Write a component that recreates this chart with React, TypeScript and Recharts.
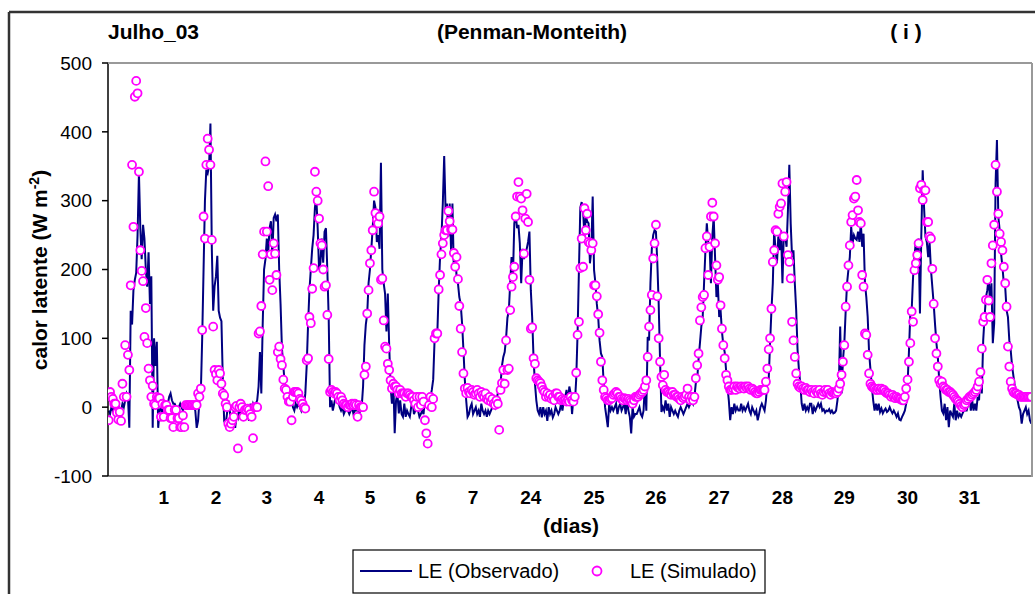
import React from 'react';
import { ComposedChart, Line, XAxis, YAxis } from 'recharts';

// rótulos do eixo x (dias) e a posição (índice da meia-hora) onde aparecem
const dayLabels = ['1', '2', '3', '4', '5', '6', '7', '24', '25', '26', '27', '28', '29', '30', '31'];
const labelIndex = [40, 78, 115, 153, 190, 227, 265, 307, 353, 398, 444, 490, 535, 581, 626];
const yTicks = [-100, 0, 100, 200, 300, 400, 500];

// LE observado, meia-hora (48 valores por linha)
const observado = [
  -5, -10, 0, -5, 5, -10, 0, 5, -15, -5, 5, 0, 10, 20, 15, -30, 140, 120, 170, 185, 195, 250, 340, 260, 215, 265, 245, 200, 175, 225, 150, 190, -30, 100, 60, 95, -30, -5, 0, -10, 5, 0, -5, 5, 15, 20, 10, 5,
  5, 0, -5, 0, 5, 0, -5, 5, 0, 5, 0, 5, 0, 5, 0, -5, -30, -20, 10, 20, 100, 200, 300, 345, 340, 350, 412, 230, 140, 175, 190, 220, 140, 130, 125, 40, -20, -25, -10, 10, -5, -20, -15, -5, -30, -10, -15, 0,
  -10, 0, -15, 5, -10, 0, -20, 5, -5, 5, 0, 5, 10, 30, 80, 20, 120, 200, 215, 245, 225, 260, 270, 220, 275, 280, 270, 280, 200, 150, 85, 60, 35, 25, 15, 10, 5, 10, 0, -5, 5, 0, 5, 0, -5, 5, 0, 20,
  60, 120, 170, 200, 230, 250, 290, 305, 260, 200, 210, 245, 210, 255, 260, 200, 130, 0, 10, -5, 5, 15, 20, 10, 0, -5, 0, -10, -5, 0, -5, -10, -5, 0, -10, -5, -5, 0, -10, -5, 0, 30, 90, 120, 135, 180, 200, 230,
  260, 300, 290, 240, 250, 230, 355, 200, 180, 165, 110, 165, 90, 30, 5, 40, -38, 10, 20, -9, 10, -10, -14, 5, -14, -5, -10, -14, 0, 10, -10, -5, 5, -5, -14, -10, -5, -10, 15, 5, 0, 10, 15, 25, 40, 97, 105, 107,
  170, 218, 248, 296, 365, 286, 296, 248, 296, 228, 296, 200, 228, 190, 180, 160, 150, 122, 83, 40, 10, -14, -10, 0, 5, -10, -5, 0, -10, -5, -14, 5, -5, -10, -5, -14, -5, -10, -5, 0, 5, 0, 10, 20, 25, 34, 60, 73,
  80, 100, 130, 140, 180, 218, 190, 267, 280, 260, 265, 238, 180, 230, 215, 225, 230, 240, 255, 170, 130, 70, 35, 10, -5, -10, 0, -15, 0, -10, -5, -20, 0, -10, -5, -15, -10, 0, -5, -10, -5, 5, -5, 10, 15, 25, 5, 30,
  20, -10, 15, 5, 40, 107, 200, 290, 298, 286, 248, 277, 270, 267, 209, 228, 306, 199, 180, 150, 131, 97, 78, 73, 34, 0, -14, -29, 5, -5, 0, -5, 0, 5, -10, 0, 5, -5, 0, 5, -10, 10, -5, -14, -38, 0, -14, -10,
  -10, -5, 0, -10, -14, -5, 34, -5, 102, 97, 180, 230, 250, 257, 255, 210, 150, 68, -7, 0, -5, 10, -5, 5, -14, 0, -5, -10, -5, -10, -14, -5, 0, -5, -10, -5, 0, 5, 0, 5, 10, 5, 15, 35, 40, 70, 93, 117,
  131, 180, 228, 267, 240, 235, 180, 248, 277, 218, 160, 180, 131, 141, 110, 90, 80, 54, 30, 10, -19, 0, -10, 5, -5, 0, -5, -5, 5, -5, 0, -5, 0, 5, -5, -10, 0, -5, -10, -5, -19, -10, 0, 5, 0, -5, 10, 35,
  40, 93, 141, 180, 257, 228, 209, 248, 228, 257, 180, 252, 248, 233, 286, 352, 267, 218, 228, 180, 141, 83, 54, 34, 5, -5, 5, -5, 0, -5, 5, 5, -10, 0, -5, 0, 5, 0, 5, -5, -3, -8, -5, -6, -3, -8, -5, -9,
  -8, -5, 10, 30, 117, 20, 68, 93, 140, 180, 200, 218, 262, 238, 250, 245, 243, 255, 240, 267, 233, 252, 180, 160, 131, 80, 55, 30, 10, -5, 5, -5, 5, -7, -2, -9, -5, -2, -7, -5, 0, -5, -9, -5, -9, -14, -9, -18,
  -19, -14, -10, -5, 5, 34, 80, 136, 141, 189, 218, 240, 209, 245, 136, 250, 344, 290, 248, 240, 218, 240, 200, 175, 150, 120, 93, 73, 40, 15, -5, -9, 5, -19, 0, -29, -5, -10, -14, 5, -19, -5, -14, -10, -14, -9, -5, -5,
  -5, 5, 15, -5, 10, -5, 5, -5, 15, 10, 54, 20, 97, 131, 160, 170, 189, 150, 180, 93, 122, 325, 388, 277, 257, 223, 204, 180, 175, 141, 131, 97, 83, 60, 45, 30, 20, 10, 0, -5, -24, -10, -5, 0, -10, -5, -19, -24,
];

// LE simulado (Penman-Monteith), mesma grade
const simulado = [
  -19, 22, 15, 12, 5, 5, -8, -18, -7, -20, 34, 15, 90, 15, 76, 54, 177, 352, 262, 451, 474, 456, 342, 228, 198, 183, 102, 144, 93, 56, 39, 15, 31, 5, 3, 15, 13, 13, -14, 5, -14, 3, 3, -4, -4, -16, -16, -29,
  -4, -4, -16, -16, -29, -29, -12, -29, 3, 3, 3, 3, 3, 3, 3, 3, 3, 20, 15, 27, 112, 277, 245, 352, 390, 374, 352, 243, 117, 54, 48, 39, 54, 49, 34, 20, 17, 5, 0, -24, -29, -24, -19, -14, 0, 2, -60, 0,
  5, 0, -14, -4, -4, -2, -4, -10, -14, -45, 0, 0, 0, 107, 110, 147, 222, 255, 357, 255, 321, 185, 222, 170, 238, 223, 192, 80, 88, 70, 61, 40, 27, 25, 15, 8, 8, -19, 15, 22, 22, 22, 20, 12, 10, 5, 0, -2,
  68, 71, 131, 122, 172, 202, 342, 313, 300, 274, 238, 235, 200, 175, 177, 134, 70, 22, 25, 22, 20, 22, 20, 15, 10, 15, 10, 5, 3, 3, 0, 3, 3, 5, 3, 5, 3, -14, 3, 0, 0, 0, 47, 59, 136, 170, 209, 228,
  257, 313, 282, 272, 267, 277, 185, 187, 126, 88, 85, 63, 54, 39, 27, 34, 30, 30, 25, 20, 25, 20, 20, 20, 15, 20, 20, 18, 15, 15, 10, 5, 15, 0, 15, 3, 15, 8, -19, -38, -53, 3, 15, 0, 12, 100, 107, 107,
  171, 192, 222, 238, 250, 257, 257, 285, 270, 258, 258, 224, 204, 218, 186, 147, 114, 80, 49, 27, 20, 28, 22, 20, 25, 22, 18, 20, 25, 20, 15, 22, 18, 15, 20, 12, 10, 15, 8, 12, 5, 3, 10, 5, -33, 25, 35, 54,
  34, 97, 54, 56, 141, 175, 189, 204, 277, 306, 327, 306, 303, 286, 223, 274, 310, 269, 185, 114, 116, 71, 63, 42, 39, 37, 35, 30, 25, 22, 15, 20, 15, 18, 12, 15, 10, 20, 20, 15, 15, 10, 12, 10, 10, 8, 10, 8,
  15, 10, 8, 15, 50, 105, 124, 202, 245, 204, 289, 257, 281, 240, 238, 228, 238, 177, 177, 161, 135, 108, 66, 39, 25, 15, 13, 10, 10, 12, 13, 18, 20, 22, 20, 15, 15, 12, 10, 13, 12, 10, 12, 10, 8, 5, 10, 15,
  15, 15, 18, 20, 22, 25, 30, 39, 73, 117, 141, 163, 216, 238, 265, 161, 100, 66, 44, 32, 47, 25, 22, 22, 20, 18, 22, 18, 18, 15, 15, 12, 10, 15, 13, 15, 18, 27, 15, 10, 15, 10, 15, 42, 61, 78, 126, 145,
  160, 163, 231, 248, 192, 233, 277, 297, 277, 238, 206, 185, 189, 148, 114, 90, 71, 47, 39, 30, 25, 25, 27, 30, 25, 30, 28, 27, 30, 28, 27, 30, 28, 30, 27, 25, 27, 25, 22, 20, 20, 22, 25, 25, 25, 25, 37, 56,
  84, 100, 143, 211, 228, 257, 255, 281, 291, 296, 325, 248, 313, 327, 221, 211, 187, 124, 97, 73, 49, 34, 30, 28, 30, 27, 25, 28, 25, 25, 22, 25, 22, 20, 25, 22, 20, 25, 20, 18, 22, 25, 22, 25, 20, 18, 22, 20,
  20, 20, 22, 27, 34, 47, 66, 90, 146, 175, 206, 235, 269, 279, 303, 306, 330, 286, 269, 267, 192, 175, 107, 105, 76, 49, 34, 30, 28, 27, 25, 25, 27, 25, 27, 25, 25, 22, 20, 20, 18, 15, 18, 15, 13, 15, 13, 12,
  12, 10, 10, 15, 27, 40, 66, 93, 139, 124, 199, 209, 221, 238, 318, 323, 301, 315, 315, 269, 269, 248, 245, 201, 150, 100, 78, 59, 39, 34, 37, 30, 28, 25, 25, 22, 22, 20, 18, 15, 12, 10, 8, 5, 2, 0, 3, 5,
  10, 12, 15, 15, 18, 20, 22, 25, 30, 37, 51, 85, 124, 131, 156, 185, 155, 131, 209, 235, 265, 352, 313, 281, 252, 240, 228, 204, 180, 146, 88, 59, 37, 27, 22, 20, 20, 18, 18, 15, 15, 15, 15, 15, 15, 15, 15, 15,
];

const data = observado.map((obs, i) => ({ i, obs, sim: simulado[i] }));

const FONT = '"Liberation Sans", Arial, sans-serif';

const DayTick = (props: any) => {
  const { x, y, payload } = props;
  const k = labelIndex.indexOf(payload.value);
  return (
    <text x={x} y={y + 28} textAnchor="middle" fontSize={19} fontWeight="bold" fill="#000" fontFamily={FONT}>
      {dayLabels[k]}
    </text>
  );
};

export default function App() {
  return (
    <div style={{ position: 'fixed', left: 0, top: 0, width: 1035, height: 594, overflow: 'hidden', background: '#fff' }}>
      <ComposedChart width={1035} height={594} data={data} margin={{ top: 63, right: 3, bottom: 88, left: 48 }}>
        <XAxis
          type="number"
          dataKey="i"
          domain={[-0.5, 671.5]}
          ticks={labelIndex}
          tick={<DayTick />}
          tickLine={false}
          tickSize={0}
          tickMargin={0}
          height={30}
          axisLine={{ stroke: '#808080', strokeWidth: 2 }}
          allowDataOverflow
        />
        <YAxis
          type="number"
          domain={[-100, 500]}
          ticks={yTicks}
          width={60}
          tickSize={6}
          tickMargin={10}
          axisLine={{ stroke: '#000', strokeWidth: 1.5 }}
          tickLine={{ stroke: '#000', strokeWidth: 1.5 }}
          tick={{ fontSize: 19, fill: '#000', fontFamily: FONT }}
          allowDataOverflow
        />
        <Line
          dataKey="obs"
          type="linear"
          stroke="#000080"
          strokeWidth={2}
          dot={false}
          activeDot={false}
          isAnimationActive={false}
        />
        <Line
          dataKey="sim"
          type="linear"
          stroke="none"
          dot={{ r: 4, stroke: '#FF00FF', strokeWidth: 1.8, fill: '#FFFFFF' }}
          activeDot={false}
          isAnimationActive={false}
        />
      </ComposedChart>
      <svg width={1035} height={594} style={{ position: 'absolute', left: 0, top: 0, pointerEvents: 'none' }} fontFamily={FONT}>
        {/* moldura do gráfico */}
        <line x1={9} y1={12} x2={1035} y2={12} stroke="#333" strokeWidth={2.5} />
        <line x1={9} y1={12} x2={9} y2={594} stroke="#333" strokeWidth={2.5} />
        {/* borda da área de plotagem */}
        <line x1={108} y1={63} x2={1032} y2={63} stroke="#999" strokeWidth={2} />
        <line x1={1032} y1={63} x2={1032} y2={477} stroke="#999" strokeWidth={2} />

        <text x={108} y={39} fontSize={21} fontWeight="bold">Julho_03</text>
        <text x={532} y={39} fontSize={21} fontWeight="bold" textAnchor="middle">(Penman-Monteith)</text>
        <text x={906} y={39} fontSize={21} fontWeight="bold" textAnchor="middle">( i )</text>

        <text x={571} y={533} fontSize={21} fontWeight="bold" textAnchor="middle">(dias)</text>
        <text transform="translate(47,270) rotate(-90)" fontSize={21} fontWeight="bold" textAnchor="middle">
          calor latente (W m<tspan dy={-8} fontSize={14}>-2</tspan><tspan dy={8}>)</tspan>
        </text>

        {/* legenda */}
        <rect x={353} y={550} width={412} height={43} fill="#fff" stroke="#000" strokeWidth={1.2} />
        <line x1={360} y1={571} x2={412} y2={571} stroke="#000080" strokeWidth={2} />
        <text x={418} y={578} fontSize={20}>LE (Observado)</text>
        <circle cx={597} cy={571} r={4.5} fill="#fff" stroke="#FF00FF" strokeWidth={1.8} />
        <text x={630} y={578} fontSize={20}>LE (Simulado)</text>
      </svg>
    </div>
  );
}
